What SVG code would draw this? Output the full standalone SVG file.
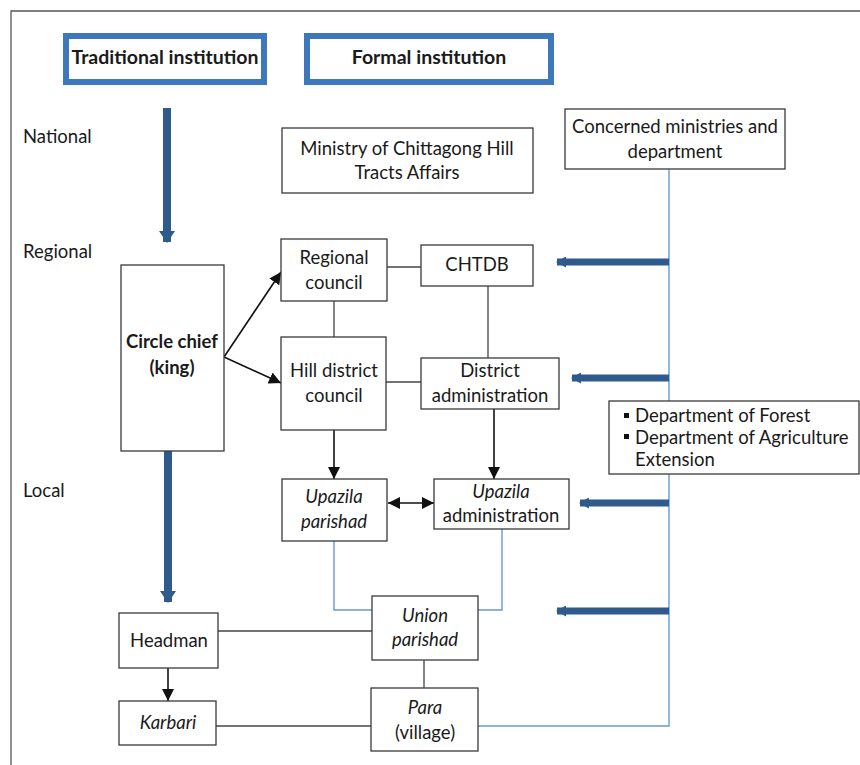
<svg xmlns="http://www.w3.org/2000/svg" width="860" height="765" viewBox="0 0 860 765">
<defs>
<style>
text{font-family:Lato,"Noto Sans","Liberation Sans",sans-serif;font-size:18.5px;fill:#1a1a1a}
.b{font-weight:bold}
.h{font-size:19.5px}
.i{font-style:italic}
.box{fill:#fff;stroke:#3a3a3a;stroke-width:1.3}
.hdr{fill:#fff;stroke:#3d78bd;stroke-width:6}
.ln{fill:none;stroke:#444;stroke-width:1.3}
.blue{fill:none;stroke:#6a97d6;stroke-width:1.4}
.ar{fill:none;stroke:#111;stroke-width:1.6}
.thick{fill:none;stroke:#2e5a8c;stroke-width:7}
.thickv{fill:none;stroke:#2e5a8c;stroke-width:8}
</style>
<marker id="ah" markerUnits="userSpaceOnUse" markerWidth="12" markerHeight="12" refX="10" refY="5" orient="auto-start-reverse" viewBox="0 0 10 10"><path d="M0,0 L10,5 L0,10 Z" fill="#111"/></marker>
<marker id="th" markerUnits="userSpaceOnUse" markerWidth="10" markerHeight="11" refX="9" refY="5.5" orient="auto" viewBox="0 0 10 11"><path d="M0,0 L10,5.5 L0,11 Z" fill="#2e5a8c"/></marker>
<marker id="tv" markerUnits="userSpaceOnUse" markerWidth="12" markerHeight="16" refX="11" refY="8" orient="auto" viewBox="0 0 12 16"><path d="M0,0 L12,8 L0,16 Z" fill="#2e5a8c"/></marker>
</defs>
<rect width="860" height="765" fill="#fff"/>
<path d="M11,765 V11 H860" fill="none" stroke="#555" stroke-width="1.3"/>

<g id="labels">
<text x="23" y="143">National</text>
<text x="23" y="258">Regional</text>
<text x="23" y="497">Local</text>
</g>

<g id="connectors">
<path class="thickv" d="M167,108 V242" marker-end="url(#tv)"/>
<path class="thickv" d="M168,451 V602" marker-end="url(#tv)"/>
<path class="blue" d="M669,169 V726 H478"/>
<path class="blue" d="M334,541 V610 H372"/>
<path class="blue" d="M502,529 V610 H478"/>
<path class="thick" d="M669,262 H557" marker-end="url(#th)"/>
<path class="thick" d="M669,378 H572" marker-end="url(#th)"/>
<path class="thick" d="M669,503 H580" marker-end="url(#th)"/>
<path class="thick" d="M669,611 H557" marker-end="url(#th)"/>
<path class="ar" d="M224,357 L281,272" marker-end="url(#ah)"/>
<path class="ar" d="M224,357 L281,383" marker-end="url(#ah)"/>
<path class="ln" d="M334,301 V337"/>
<path class="ln" d="M387,267 H421"/>
<path class="ln" d="M386,382 H421"/>
<path class="ln" d="M488,286 V358"/>
<path class="ar" d="M494,409 V479" marker-end="url(#ah)"/>
<path class="ar" d="M334,430 V479" marker-end="url(#ah)"/>
<path class="ar" d="M388,503 H434" marker-start="url(#ah)" marker-end="url(#ah)"/>
<path class="ln" d="M218,631 H372"/>
<path class="ln" d="M216,726 H371"/>
<path class="ln" d="M424,660 V688"/>
<path class="ar" d="M168,668 V701" marker-end="url(#ah)"/>
</g>

<g id="traditional">
<rect class="hdr" x="66" y="36" width="198" height="46"/>
<text class="b h" x="165" y="64" text-anchor="middle">Traditional institution</text>
</g>
<g id="formal">
<rect class="hdr" x="307" y="36" width="244" height="46"/>
<text class="b h" x="429" y="64" text-anchor="middle">Formal institution</text>
</g>
<g id="ministry">
<rect class="box" x="282" y="128" width="251" height="65"/>
<text x="407" y="155" text-anchor="middle">Ministry of Chittagong Hill</text>
<text x="407" y="179" text-anchor="middle">Tracts Affairs</text>
</g>
<g id="concerned">
<rect class="box" x="565" y="109" width="220" height="60"/>
<text x="675" y="133" text-anchor="middle">Concerned ministries and</text>
<text x="675" y="158" text-anchor="middle">department</text>
</g>
<g id="circlechief">
<rect class="box" x="121" y="265" width="103" height="186"/>
<text class="b" x="172" y="348" text-anchor="middle">Circle chief</text>
<text class="b" x="172" y="374" text-anchor="middle">(king)</text>
</g>
<g id="regionalcouncil">
<rect class="box" x="281" y="239" width="106" height="62"/>
<text x="334" y="264" text-anchor="middle">Regional</text>
<text x="334" y="289" text-anchor="middle">council</text>
</g>
<g id="chtdb">
<rect class="box" x="421" y="245" width="112" height="41"/>
<text x="477" y="271" text-anchor="middle">CHTDB</text>
</g>
<g id="hilldistrict">
<rect class="box" x="281" y="337" width="105" height="93"/>
<text x="334" y="377" text-anchor="middle">Hill district</text>
<text x="334" y="402" text-anchor="middle">council</text>
</g>
<g id="districtadmin">
<rect class="box" x="421" y="358" width="138" height="51"/>
<text x="490" y="377" text-anchor="middle">District</text>
<text x="490" y="402" text-anchor="middle">administration</text>
</g>
<g id="departments">
<rect class="box" x="609" y="401" width="250" height="73"/>
<rect x="624" y="413" width="5" height="5" fill="#111"/>
<rect x="624" y="434" width="5" height="5" fill="#111"/>
<text x="635" y="422">Department of Forest</text>
<text x="635" y="444">Department of Agriculture</text>
<text x="635" y="466">Extension</text>
</g>
<g id="upazilaparishad">
<rect class="box" x="282" y="479" width="105" height="62"/>
<text class="i" x="334" y="503" text-anchor="middle">Upazila</text>
<text class="i" x="334" y="528" text-anchor="middle">parishad</text>
</g>
<g id="upazilaadmin">
<rect class="box" x="434" y="479" width="135" height="50"/>
<text class="i" x="501" y="498" text-anchor="middle">Upazila</text>
<text x="501" y="522" text-anchor="middle">administration</text>
</g>
<g id="headman">
<rect class="box" x="119" y="613" width="99" height="55"/>
<text x="169" y="647" text-anchor="middle">Headman</text>
</g>
<g id="karbari">
<rect class="box" x="119" y="701" width="97" height="44"/>
<text class="i" x="168" y="729" text-anchor="middle">Karbari</text>
</g>
<g id="unionparishad">
<rect class="box" x="372" y="596" width="106" height="64"/>
<text class="i" x="425" y="622" text-anchor="middle">Union</text>
<text class="i" x="425" y="646" text-anchor="middle">parishad</text>
</g>
<g id="para">
<rect class="box" x="371" y="688" width="107" height="63"/>
<text class="i" x="425" y="714" text-anchor="middle">Para</text>
<text x="425" y="739" text-anchor="middle">(village)</text>
</g>
</svg>
